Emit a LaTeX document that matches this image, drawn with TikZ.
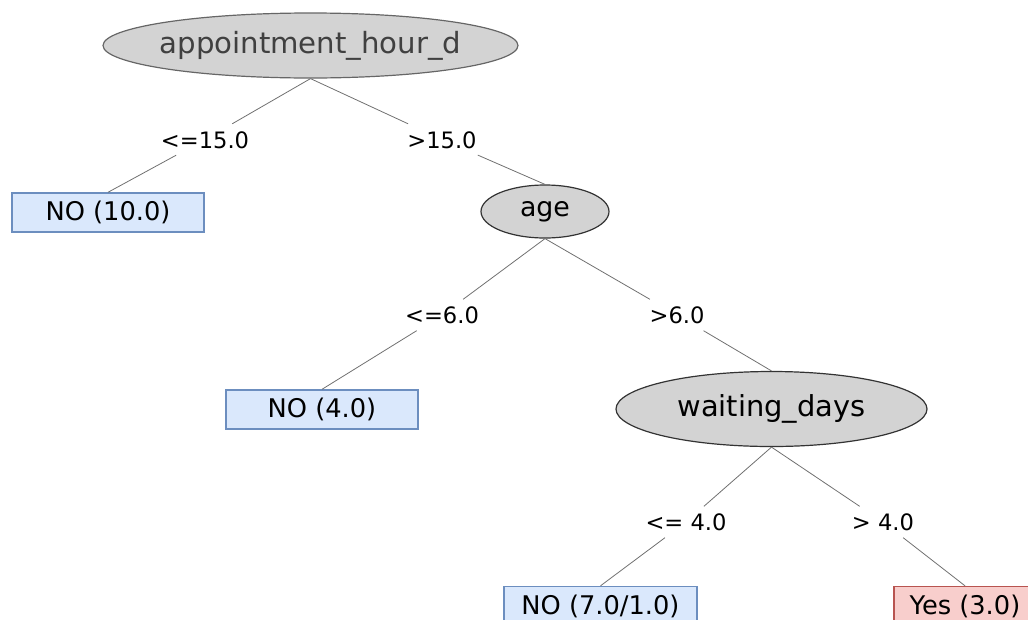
\documentclass[tikz,border=0pt]{standalone}
\usepackage{fontspec}
\setmainfont{DejaVu Sans}
\usetikzlibrary{shapes.geometric}
\definecolor{ellfill}{HTML}{D3D3D3}
\definecolor{leafblue}{HTML}{DAE8FC}
\definecolor{leafblueline}{HTML}{6C8EBF}
\definecolor{leafred}{HTML}{F8CECC}
\definecolor{leafredline}{HTML}{B85450}
\definecolor{edgegray}{HTML}{707070}
\tikzset{
  ell/.style={ellipse, draw=black!80, line width=1.2pt, fill=ellfill, inner sep=0pt},
  leafno/.style={rectangle, draw=leafblueline, line width=1.4pt, fill=leafblue, inner sep=0pt,
    minimum height=39pt, font=\fontsize{25.7}{30}\selectfont},
  leafyes/.style={rectangle, draw=leafredline, line width=1.4pt, fill=leafred, inner sep=0pt,
    minimum height=39pt, font=\fontsize{25.7}{30}\selectfont},
  cond/.style={inner xsep=1pt, inner ysep=7pt, text height=17pt, text depth=0pt,
    font=\fontsize{22.6}{27}\selectfont},
  edge/.style={draw=edgegray, line width=0.8pt}
}
\begin{document}
\begin{tikzpicture}[x=1pt, y=-1pt]
\useasboundingbox (0,0) rectangle (1028,619);
\clip (0,0) rectangle (1028,619);
% internal nodes
\node[ell, draw=black!60, minimum width=415pt, minimum height=65pt, text=black!75,
  font=\fontsize{29.2}{34}\selectfont] (root) at (310.5,45.5) {\makebox[0pt]{appointment\_hour\_d}};
\node[ell, minimum width=128pt, minimum height=53pt,
  font=\fontsize{26.8}{32}\selectfont] (age) at (545,211.5) {\makebox[0pt]{age}};
\node[ell, minimum width=311pt, minimum height=75pt,
  font=\fontsize{28.9}{34}\selectfont] (wd) at (771.5,409) {\makebox[0pt]{\raisebox{-3pt}{waiting\_days}}};
% leaves
\node[leafno, minimum width=192pt] (n10) at (108,212.5) {NO (10.0)};
\node[leafno, minimum width=192pt] (n4) at (322,409.5) {NO (4.0)};
\node[leafno, minimum width=193pt] (n7) at (600.5,606) {NO (7.0/1.0)};
\node[leafyes, minimum width=142pt] (y3) at (965,606) {Yes (3.0)};
% condition labels
\node[cond] (c1) at (205,139.5) {<=15.0};
\node[cond] (c2) at (442,139.5) {>15.0};
\node[cond] (c3) at (442,315) {<=6.0};
\node[cond] (c4) at (677,315) {>6.0};
\node[cond] (c5) at (686,522) {<= 4.0};
\node[cond] (c6) at (883,522) {> 4.0};
% connectors
\draw[edge] (root.south) -- (c1);
\draw[edge] (c1) -- (n10.north);
\draw[edge] (root.south) -- (c2);
\draw[edge] (c2) -- (age.north);
\draw[edge] (age.south) -- (c3);
\draw[edge] (c3) -- (n4.north);
\draw[edge] (age.south) -- (c4);
\draw[edge] (c4) -- (wd.north);
\draw[edge] (wd.south) -- (c5);
\draw[edge] (c5) -- (n7.north);
\draw[edge] (wd.south) -- (c6);
\draw[edge] (c6) -- (y3.north);
\end{tikzpicture}
\end{document}
